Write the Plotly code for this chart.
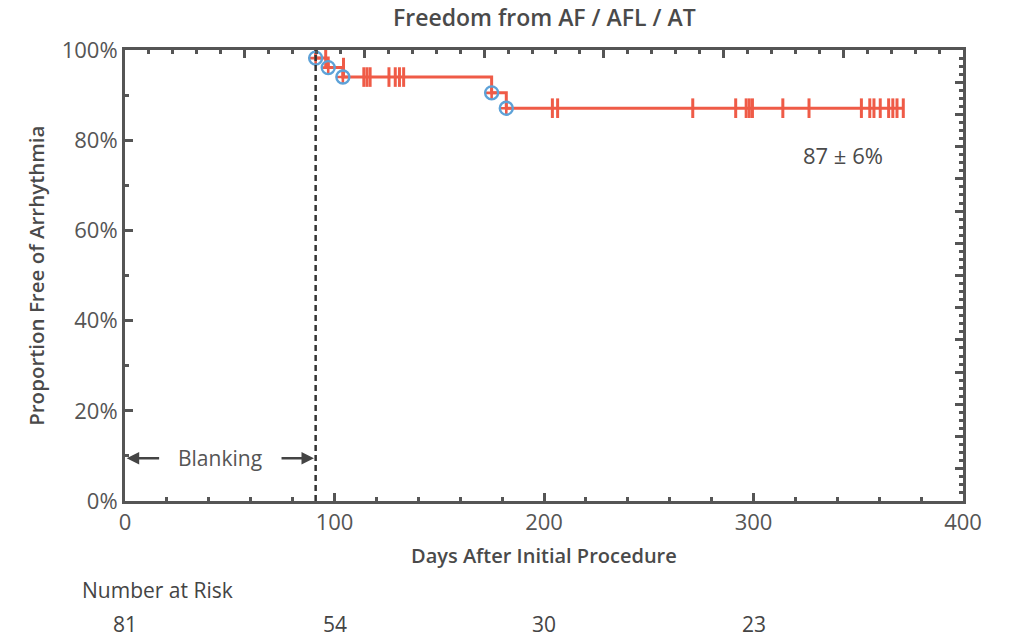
import plotly.graph_objects as go

# ---- data ----
# Kaplan-Meier step curve (days, proportion %)
step_days = [91, 91, 97, 104, 175, 182, 371.5]
step_surv = [100, 98.2, 96.1, 94.0, 90.5, 87.1, 87.1]
# events (circled)
event_days = [91, 97, 104, 175, 182]
event_surv = [98.2, 96.1, 94.0, 90.5, 87.1]
# censored observations
censor_days = [95.8, 104.3, 114, 115.5, 117, 126, 129, 131, 133,
               204, 206.5, 271, 291.5, 296.5, 298, 299.5, 314, 326.5,
               351.5, 355.5, 357.5, 360.5, 364.5, 366.5, 368.5, 371.5]
censor_surv = [98.2, 96.1, 94.0, 94.0, 94.0, 94.0, 94.0, 94.0, 94.0,
               87.1, 87.1, 87.1, 87.1, 87.1, 87.1, 87.1, 87.1, 87.1,
               87.1, 87.1, 87.1, 87.1, 87.1, 87.1, 87.1, 87.1]
blanking_day = 91
risk_days = [0, 100, 200, 300]
risk_numbers = ["81", "54", "30", "23"]
x_ticks = [0, 100, 200, 300, 400]
y_ticks = [0, 20, 40, 60, 80, 100]
y_tick_labels = ["0%", "20%", "40%", "60%", "80%", "100%"]
summary_label = "87 ± 6%"

RED = "#EF5B47"
BLUE = "#5DA2D8"
AX = "#555555"
TXT = "#4a4a4a"
FONT = "Open Sans"
NARROW = "Liberation Sans Narrow, Open Sans"

fig = go.Figure()

fig.add_trace(go.Scatter(x=step_days, y=step_surv, mode="lines",
                         line=dict(color=RED, width=3, shape="hv"),
                         hoverinfo="skip", showlegend=False))
fig.add_trace(go.Scatter(x=censor_days, y=censor_surv, mode="markers",
                         marker=dict(symbol="line-ns", size=14,
                                     line=dict(color=RED, width=3)),
                         hoverinfo="skip", showlegend=False))
fig.add_trace(go.Scatter(x=event_days, y=event_surv, mode="markers",
                         marker=dict(symbol="cross-thin", size=10,
                                     line=dict(color=RED, width=2.6)),
                         hoverinfo="skip", showlegend=False))
fig.add_trace(go.Scatter(x=event_days, y=event_surv, mode="markers",
                         marker=dict(symbol="circle-open", size=13, color=BLUE,
                                     line=dict(color=BLUE, width=2.4)),
                         hoverinfo="skip", showlegend=False))
# invisible trace to anchor mirrored axes
fig.add_trace(go.Scatter(x=[0], y=[0], xaxis="x2", yaxis="y2", mode="markers",
                         marker=dict(opacity=0), hoverinfo="skip", showlegend=False))

tickfont = dict(family=FONT, size=22, color="#555555")
common = dict(showgrid=False, zeroline=False, showline=True, linewidth=3,
              linecolor=AX, ticks="inside", tickwidth=2.5, tickcolor=AX, ticklen=8)

fig.update_layout(
    width=1015, height=638,
    margin=dict(l=125, r=52, t=50, b=137),
    paper_bgcolor="white", plot_bgcolor="white",
    xaxis=dict(range=[0, 400], tickmode="array", tickvals=x_ticks,
               ticktext=[str(v) for v in x_ticks], tickfont=tickfont,
               minor=dict(dtick=20, ticklen=4, tickwidth=2.5, tickcolor=AX, ticks="inside"),
               **common),
    yaxis=dict(range=[0, 100], tickmode="array", tickvals=y_ticks,
               ticktext=y_tick_labels, tickfont=tickfont,
               minor=dict(dtick=10, ticklen=4, tickwidth=2.5, tickcolor=AX, ticks="inside"),
               **common),
    xaxis2=dict(range=[0, 7], overlaying="x", side="top", dtick=1, showticklabels=False,
                minor=dict(dtick=0.2, ticklen=4, tickwidth=2.5, tickcolor=AX, ticks="inside"),
                **common),
    yaxis2=dict(range=[0, 14], overlaying="y", side="right", dtick=1, showticklabels=False,
                minor=dict(dtick=0.25, ticklen=4, tickwidth=2.5, tickcolor=AX, ticks="inside"),
                **common),
)

# blanking line
fig.add_shape(type="line", x0=blanking_day, x1=blanking_day, y0=0, y1=100,
              xref="x", yref="y", line=dict(color="#333333", width=2.5, dash="6px,4px"))

annots = []
annots.append(dict(text="Freedom from AF / AFL / AT", xref="paper", yref="paper",
                   x=0.5, y=1.073, showarrow=False, xanchor="center", yanchor="middle",
                   font=dict(family=FONT, size=23, color=TXT, weight=600)))
annots.append(dict(text="Days After Initial Procedure", xref="paper", yref="paper",
                   x=0.5, y=-0.12, showarrow=False, xanchor="center", yanchor="middle",
                   font=dict(family=FONT, size=20, color=TXT, weight=600)))
annots.append(dict(text="Proportion Free of Arrhythmia", xref="paper", yref="paper",
                   x=-0.107, y=0.5, showarrow=False, textangle=-90,
                   xanchor="center", yanchor="middle",
                   font=dict(family=FONT, size=20.5, color=TXT, weight=600)))
annots.append(dict(text=summary_label, xref="x", yref="y", x=342.7, y=76.7,
                   showarrow=False, xanchor="center", yanchor="middle",
                   font=dict(family=FONT, size=22, color=TXT, weight=500)))
annots.append(dict(text="Blanking", xref="x", yref="y", x=45.5, y=9.6,
                   showarrow=False, xanchor="center", yanchor="middle",
                   font=dict(family=FONT, size=21, color="#555555")))
# arrows
annots.append(dict(text="", xref="x", yref="y", x=0.8, y=9.5, axref="x", ayref="y",
                   ax=17, ay=9.5, showarrow=True, arrowhead=2, arrowsize=1,
                   arrowwidth=2.5, arrowcolor="#444444"))
annots.append(dict(text="", xref="x", yref="y", x=90.2, y=9.5, axref="x", ayref="y",
                   ax=74, ay=9.5, showarrow=True, arrowhead=2, arrowsize=1,
                   arrowwidth=2.5, arrowcolor="#444444"))
# number at risk
annots.append(dict(text="Number at Risk", xref="paper", yref="paper", x=-0.0537, y=-0.197,
                   showarrow=False, xanchor="left", yanchor="middle",
                   font=dict(family=NARROW, size=21, color="#444444")))
for d, n in zip(risk_days, risk_numbers):
    annots.append(dict(text=n, xref="x", yref="paper", x=d, y=-0.273,
                       showarrow=False, xanchor="center", yanchor="middle",
                       font=dict(family=NARROW, size=21, color="#444444")))
fig.update_layout(annotations=annots)

fig.write_html("out.html", config={"displayModeBar": False},
               post_script="document.body.style.margin='0';")
